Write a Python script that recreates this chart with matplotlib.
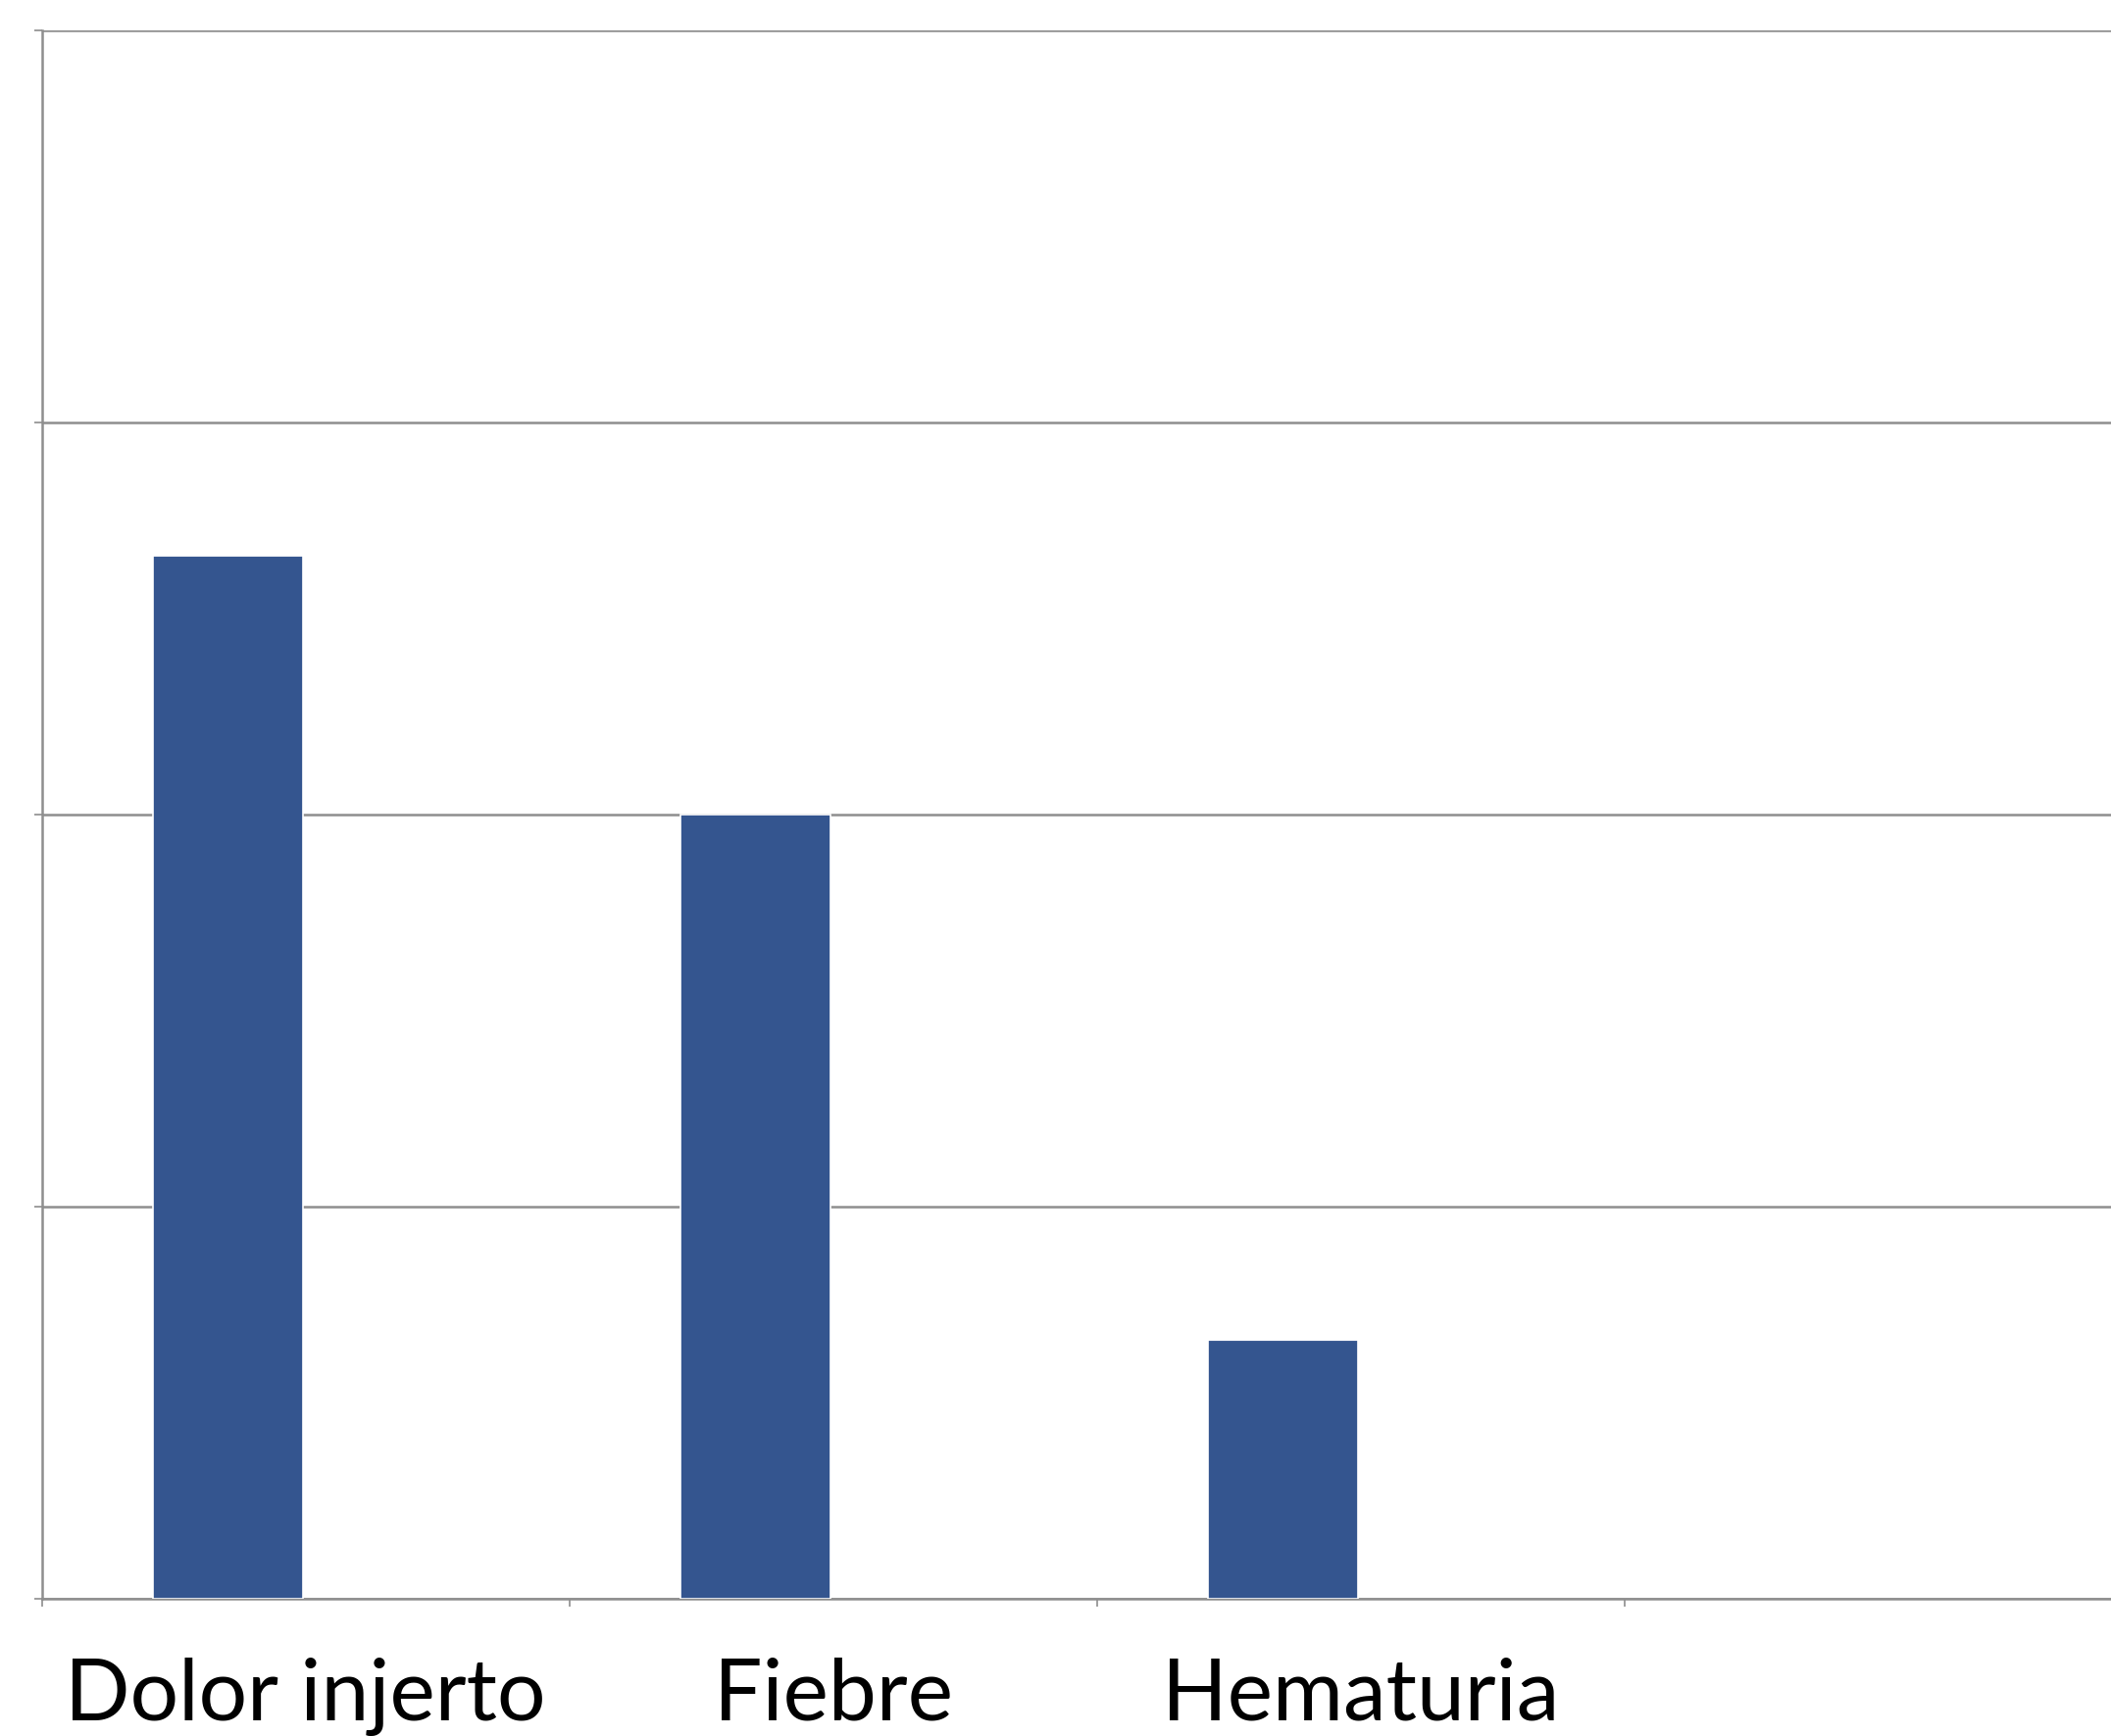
import numpy as np
import matplotlib
matplotlib.use("Agg")
import matplotlib.pyplot as plt

# categories and the single series drawn
categories = ["Dolor injerto", "Fiebre", "Hematuria"]
values = [2.66, 2.0, 0.66]
n_slots = 4          # the category axis has one empty slot on the right
y_ticks = [0, 1, 2, 3, 4]

bar_color = "#34558F"
grid_color = "#8E8E8E"

plt.rcParams["font.family"] = ["Lato", "DejaVu Sans"]

fig = plt.figure(figsize=(21.53, 17.71), dpi=100)
# axis runs off the right edge of the figure
ax = fig.add_axes([42.6 / 2153, 140 / 1771, 2152 / 2153, 1600 / 1771])

x = np.arange(len(categories))
width = 0.283
ax.bar(x - 0.147, values, width, color=bar_color, edgecolor="white",
       linewidth=1.2, zorder=3)

ax.set_xlim(-0.5, n_slots - 0.5)
ax.set_ylim(y_ticks[0], y_ticks[-1])

ax.set_yticks(y_ticks)
ax.set_yticklabels([])
ax.yaxis.grid(True, color=grid_color, linewidth=1.8, zorder=1)
ax.tick_params(axis="y", length=6, width=1.2, color=grid_color, direction="out")

ax.set_xticks(x)
ax.set_xticklabels(categories, fontsize=63)
ax.tick_params(axis="x", which="major", length=0, pad=43)
ax.set_xticks(np.arange(n_slots + 1) - 0.5, minor=True)
ax.tick_params(axis="x", which="minor", length=6, width=1.2, color=grid_color,
               direction="out")

for side in ["top", "right"]:
    ax.spines[side].set_visible(False)
for side in ["left", "bottom"]:
    ax.spines[side].set_color(grid_color)
    ax.spines[side].set_linewidth(1.8)

fig.savefig("out.png", dpi=100)
